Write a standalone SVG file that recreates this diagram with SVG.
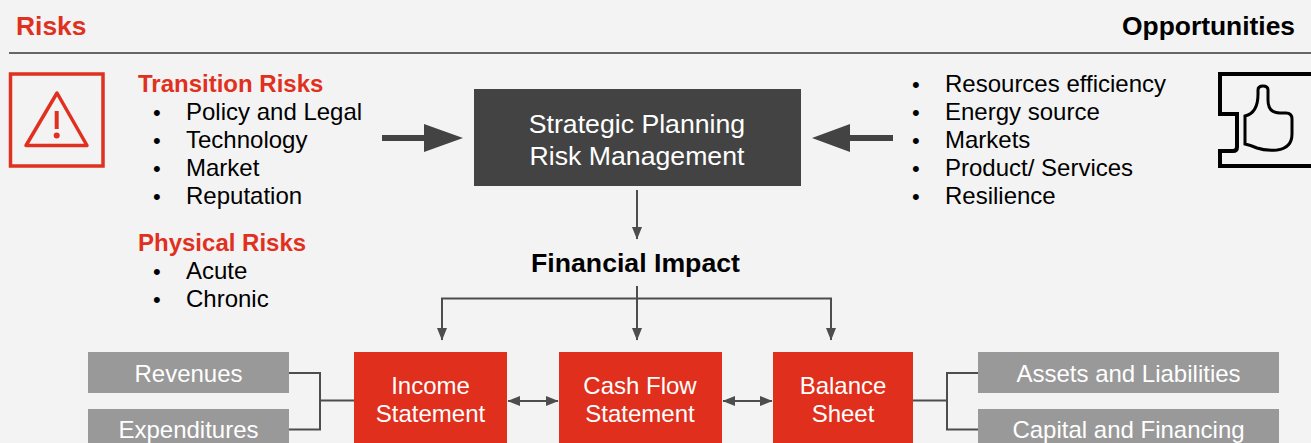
<svg xmlns="http://www.w3.org/2000/svg" width="1311" height="443" viewBox="0 0 1311 443">
<style>
text{font-family:"Liberation Sans",Arial,sans-serif;font-size:24px;fill:#000}
.b{font-weight:700}
.r{fill:#e03020}
.w{fill:#fff;text-anchor:middle}
.m{text-anchor:middle}
.l{font-size:26.670px}
.t{font-size:26.400px}
.d{font-size:22px}
.c{fill:none;stroke:#4d4d4d;stroke-width:2}
.redbox{fill:#e02f1d}
.grey{fill:#999}
</style>
<defs>
<marker id="a" markerUnits="userSpaceOnUse" markerWidth="13" markerHeight="10" refX="12" refY="5" orient="auto-start-reverse"><path d="M0 0L12.500 5L0 10Z" fill="#4d4d4d"/></marker>
</defs>
<rect width="1311" height="443" fill="#f3f3f3"/>
<path d="M9 53H1311" stroke="#666" stroke-width="2" fill="none"/>
<g id="risks-title"><text class="b r t" x="16" y="35">Risks</text></g>
<g id="opportunities-title"><text class="b t" x="1295" y="35" text-anchor="end">Opportunities</text></g>
<g id="warning-icon">
<rect x="10.500" y="74" width="92.500" height="92" fill="none" stroke="#e03020" stroke-width="3.500"/>
<path d="M57 93L87 145.500H26Z" fill="none" stroke="#e03020" stroke-width="3.500" stroke-linejoin="round"/>
<path d="M56.700 111V129" stroke="#e03020" stroke-width="4" fill="none"/>
<circle cx="56.700" cy="135.500" r="3" fill="#e03020"/>
</g>
<g id="thumb-icon" fill="none" stroke="#000">
<path d="M1311 74H1220V114H1237V147Q1237 151 1233 151H1220V166H1311" stroke-width="4"/>
<path d="M1245 144V116Q1258 113 1258 94V90Q1258 86 1263 86Q1268 86 1268 90V100Q1268 113 1280 113H1286Q1292 113 1292 119V134Q1292 148 1277 150Q1265 151 1257 148Q1250 145 1245 144Z" stroke-width="3"/>
</g>
<g id="transition-risks">
<text class="b r" x="138" y="92">Transition Risks</text>
<text class="d" x="153" y="119.500">•</text><text x="186" y="120">Policy and Legal</text>
<text class="d" x="153" y="147.500">•</text><text x="186" y="148">Technology</text>
<text class="d" x="153" y="175.500">•</text><text x="186" y="176">Market</text>
<text class="d" x="153" y="203.500">•</text><text x="186" y="204">Reputation</text>
</g>
<g id="physical-risks">
<text class="b r" x="138" y="251">Physical Risks</text>
<text class="d" x="153" y="278.500">•</text><text x="186" y="279">Acute</text>
<text class="d" x="153" y="306.500">•</text><text x="186" y="307">Chronic</text>
</g>
<g id="opportunities-list">
<text class="d" x="912" y="91.500">•</text><text x="945" y="92">Resources efficiency</text>
<text class="d" x="912" y="119.500">•</text><text x="945" y="120">Energy source</text>
<text class="d" x="912" y="147.500">•</text><text x="945" y="148">Markets</text>
<text class="d" x="912" y="175.500">•</text><text x="945" y="176">Product/ Services</text>
<text class="d" x="912" y="203.500">•</text><text x="945" y="204">Resilience</text>
</g>
<g id="strategic-planning">
<rect x="474" y="89" width="327" height="97" fill="#434343"/>
<text class="w l" x="637" y="133">Strategic Planning</text>
<text class="w l" x="637" y="165">Risk Management</text>
</g>
<g id="financial-impact"><text class="b m l" x="635.500" y="272">Financial Impact</text></g>
<g id="income-statement"><rect class="redbox" x="354" y="352" width="153" height="91"/><text class="w" x="430.500" y="394">Income</text><text class="w" x="430.500" y="422">Statement</text></g>
<g id="cash-flow-statement"><rect class="redbox" x="559" y="352" width="163" height="91"/><text class="w" x="640" y="394">Cash Flow</text><text class="w" x="640" y="422">Statement</text></g>
<g id="balance-sheet"><rect class="redbox" x="773" y="352" width="140" height="91"/><text class="w" x="843" y="394">Balance</text><text class="w" x="843" y="422">Sheet</text></g>
<g id="revenues"><rect class="grey" x="88" y="352" width="201" height="41"/><text class="w" x="188.500" y="382">Revenues</text></g>
<g id="expenditures"><rect class="grey" x="88" y="409" width="201" height="34"/><text class="w" x="188.500" y="438">Expenditures</text></g>
<g id="assets-liabilities"><rect class="grey" x="978" y="352" width="301" height="41"/><text class="w" x="1128.500" y="382">Assets and Liabilities</text></g>
<g id="capital-financing"><rect class="grey" x="978" y="409" width="301" height="34"/><text class="w" x="1128.500" y="438">Capital and Financing</text></g>
<g id="connectors">
<path d="M382 138H425" stroke="#434343" stroke-width="6" fill="none"/><path d="M424 124L463 138L424 152Z" fill="#434343"/>
<path d="M893 138H850" stroke="#434343" stroke-width="6" fill="none"/><path d="M850 124L812 138L850 152Z" fill="#434343"/>
<path class="c" d="M637 190V239" marker-end="url(#a)"/>
<path class="c" d="M637 286V340" marker-end="url(#a)"/>
<path class="c" d="M637 298.500H442V340" marker-end="url(#a)"/>
<path class="c" d="M637 298.500H831V340" marker-end="url(#a)"/>
<path class="c" d="M508 401H558" marker-start="url(#a)" marker-end="url(#a)"/>
<path class="c" d="M723 401H772" marker-start="url(#a)" marker-end="url(#a)"/>
<path class="c" d="M289 373H320V429.500H289M320 400.500H354"/>
<path class="c" d="M978 373H947V429.500H978M947 400.500H913"/>
</g>
</svg>
